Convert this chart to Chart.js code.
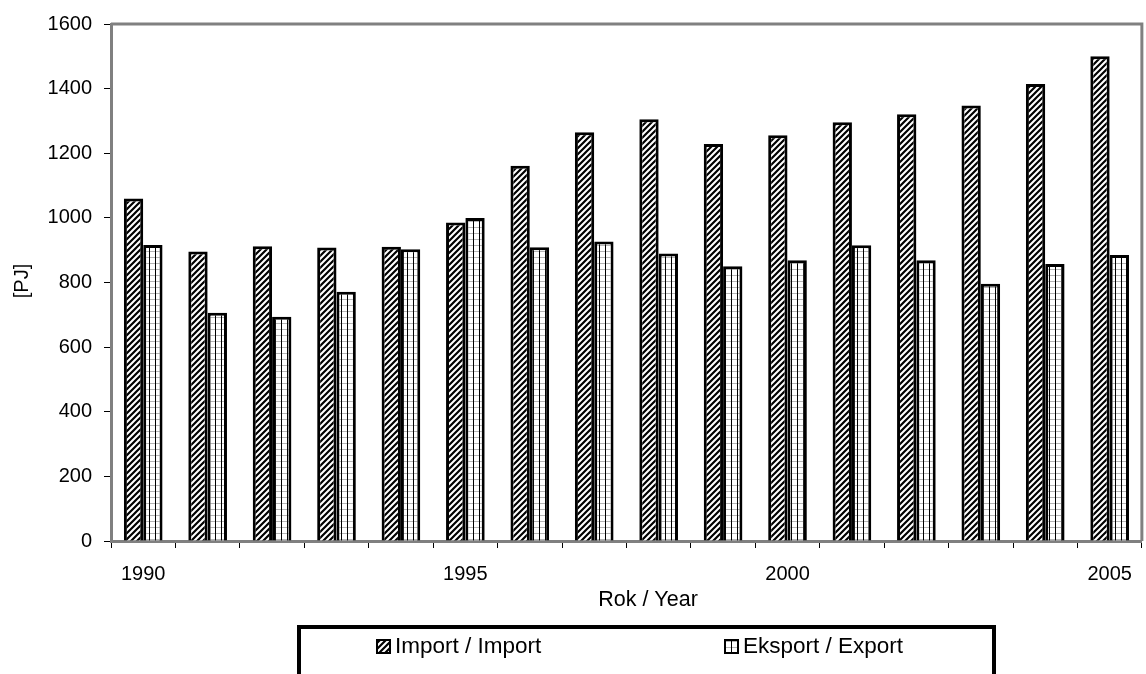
<!DOCTYPE html>
<html>
<head>
<meta charset="utf-8">
<script src="https://cdn.jsdelivr.net/npm/chart.js@4.4.1/dist/chart.umd.min.js"></script>
<style>
  html, body { margin: 0; padding: 0; background: #fff; }
  #wrap { width: 1146px; height: 674px; position: relative; }
</style>
</head>
<body>
<div id="wrap"><canvas id="chart"></canvas></div>
<script>
// data
const years = ["1990", "1991", "1992", "1993", "1994", "1995", "1996", "1997",
  "1998", "1999", "2000", "2001", "2002", "2003", "2004", "2005"];
const importVals = [1060, 896, 912, 908, 911, 986, 1161, 1265, 1305, 1229, 1256, 1296, 1321, 1348, 1414, 1500];
const exportVals = [916, 706, 694, 771, 903, 1000, 909, 927, 890, 850, 869, 915, 869, 796, 857, 885];
const yTicks = [0, 200, 400, 600, 800, 1000, 1200, 1400, 1600];
const seriesNames = ["Import / Import", "Eksport / Export"];

const FONT = "'Liberation Sans', Arial, sans-serif";
Chart.defaults.font.family = FONT;
Chart.defaults.color = "#000";

// hatch fills like the old excel patterns
function hatchPattern() {
  const c = document.createElement("canvas");
  c.width = 6; c.height = 6;
  const g = c.getContext("2d");
  g.fillStyle = "#fff";
  g.fillRect(0, 0, 6, 6);
  g.strokeStyle = "#000";
  g.lineWidth = 2.2;
  g.beginPath();
  g.moveTo(-1, 7); g.lineTo(7, -1);
  g.moveTo(-4, 4); g.lineTo(4, -4);
  g.moveTo(2, 10); g.lineTo(10, 2);
  g.stroke();
  return g.createPattern(c, "repeat");
}

function gridPattern() {
  const c = document.createElement("canvas");
  c.width = 6; c.height = 6;
  const g = c.getContext("2d");
  g.fillStyle = "#fff";
  g.fillRect(0, 0, 6, 6);
  g.fillStyle = "#b4b4b4";
  g.fillRect(0, 5, 6, 1);
  g.fillStyle = "#000";
  g.fillRect(5, 0, 1, 6);
  return g.createPattern(c, "repeat");
}

const fills = [hatchPattern(), gridPattern()];

// frame, axis titles and boxed legend
const extras = {
  id: "extras",
  beforeDatasetsDraw(chart) {
    const { ctx, chartArea: a } = chart;
    ctx.save();
    ctx.strokeStyle = "#808080";
    ctx.lineWidth = 3;
    ctx.beginPath();
    ctx.moveTo(a.left, a.top);
    ctx.lineTo(a.right, a.top);
    ctx.lineTo(a.right, a.bottom);
    ctx.stroke();
    ctx.restore();
  },
  afterDraw(chart) {
    const { ctx } = chart;
    ctx.save();
    ctx.fillStyle = "#000";
    ctx.textAlign = "center";
    ctx.textBaseline = "middle";
    ctx.font = "21.5px " + FONT;
    ctx.fillText("Rok / Year", 648, 600);
    ctx.font = "20px " + FONT;
    ctx.translate(22, 281);
    ctx.rotate(-Math.PI / 2);
    ctx.fillText("[PJ]", 0, 0);
    ctx.restore();

    // legend box
    ctx.save();
    ctx.strokeStyle = "#000";
    ctx.lineWidth = 4;
    ctx.strokeRect(299, 627, 695, 60);
    const xs = [376, 724];
    chart.data.datasets.forEach((ds, i) => {
      ctx.fillStyle = fills[i];
      ctx.fillRect(xs[i], 639, 15, 15);
      ctx.strokeStyle = "#000";
      ctx.lineWidth = 2;
      ctx.strokeRect(xs[i] + 1, 640, 13, 13);
      ctx.fillStyle = "#000";
      ctx.font = "22.5px " + FONT;
      ctx.textAlign = "left";
      ctx.textBaseline = "middle";
      ctx.fillText(ds.label, xs[i] + 19, 647);
    });
    ctx.restore();
  }
};

new Chart(document.getElementById("chart"), {
  type: "bar",
  data: {
    labels: years,
    datasets: [
      { label: seriesNames[0], data: importVals, backgroundColor: fills[0], borderColor: "#000", borderWidth: 3 },
      { label: seriesNames[1], data: exportVals, backgroundColor: fills[1], borderColor: "#000", borderWidth: 3 }
    ]
  },
  options: {
    responsive: true,
    maintainAspectRatio: false,
    animation: false,
    layout: { padding: { top: 20, right: 3, left: 0, bottom: 0 } },
    datasets: { bar: { categoryPercentage: 0.6, barPercentage: 1.0 } },
    plugins: { legend: { display: false }, tooltip: { enabled: false } },
    scales: {
      x: {
        afterFit: s => { s.height = 133; },
        grid: { display: true, drawOnChartArea: false, offset: true, tickLength: 7, color: "#000" },
        border: { color: "#808080", width: 3 },
        ticks: {
          autoSkip: false, maxRotation: 0, padding: 14,
          font: { size: 20 },
          callback: (v, i) => (i % 5 === 0 ? years[i] : "")
        }
      },
      y: {
        min: 0, max: 1600,
        afterFit: s => { s.width = 111; },
        afterBuildTicks: s => { s.ticks = yTicks.map(v => ({ value: v })); },
        grid: { display: true, drawOnChartArea: false, tickLength: 7, color: "#000" },
        border: { color: "#808080", width: 3 },
        ticks: { padding: 12, font: { size: 20 }, callback: v => String(v) }
      }
    }
  },
  plugins: [extras]
});
</script>
</body>
</html>
